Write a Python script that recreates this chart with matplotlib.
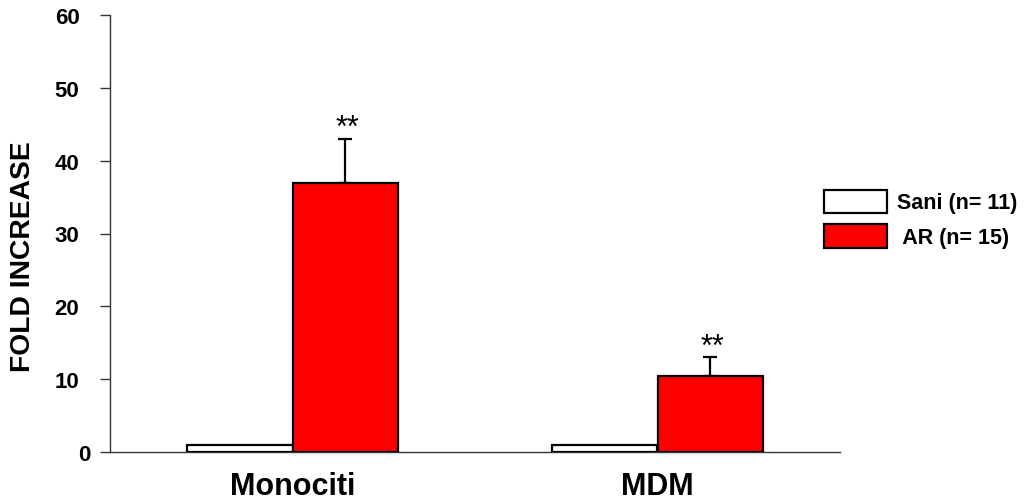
import matplotlib
matplotlib.use("Agg")
import matplotlib.pyplot as plt
import matplotlib.transforms as mtransforms
import numpy as np

categories = ["Monociti", "MDM"]
series_names = ["Sani (n= 11)", " AR (n= 15)"]
sani_values = [1.0, 1.0]
ar_values = [37.0, 10.5]
ar_errors = [6.0, 2.5]
significance = ["**", "**"]
yticks = [0, 10, 20, 30, 40, 50, 60]

plt.rcParams["font.family"] = ["Liberation Sans", "DejaVu Sans"]

fig = plt.figure(figsize=(10.24, 5.02), dpi=100)
ax = fig.add_axes([110/1024, 1-453/502, 730/1024, (453-16)/502])

x = np.arange(len(categories))
w = 0.2877
b1 = ax.bar(x - w/2, sani_values, w, color="white", edgecolor="black", linewidth=1.6,
            label=series_names[0], zorder=3)
b2 = ax.bar(x + w/2, ar_values, w, color="#ff0000", edgecolor="black", linewidth=1.6,
            label=series_names[1], zorder=3)
ax.errorbar(x + w/2, ar_values, yerr=[np.zeros(len(ar_errors)), ar_errors], fmt="none",
            ecolor="black", elinewidth=1.6, capsize=5, capthick=1.6, zorder=2)
for xi, v, e, s in zip(x + w/2, ar_values, ar_errors, significance):
    ax.annotate(s, (xi, v + e), xytext=(1.5, 2), textcoords="offset points",
                ha="center", va="baseline", fontsize=22)

ax.set_xlim(-0.5, 1.5)
ax.set_ylim(0, 60)
ax.set_yticks(yticks)
ax.set_yticklabels([str(t) for t in yticks], fontsize=16, fontweight="bold")
ax.set_xticks(x)
ax.set_xticklabels(categories, fontsize=22, fontweight="bold")
ax.tick_params(axis="x", length=0, pad=14)
ax.tick_params(axis="y", direction="out", length=7, width=1, color="#333333", pad=15)
# the "0" label in the reference sits further right than the others
zero_lbl = ax.get_yticklabels()[0]
zero_lbl.set_transform(zero_lbl.get_transform() +
                       mtransforms.ScaledTranslation(11/100, 0, fig.dpi_scale_trans))
for sp in ["top", "right"]:
    ax.spines[sp].set_visible(False)
ax.spines["left"].set_color("#333333")
ax.spines["bottom"].set_color("#333333")
ax.spines["left"].set_linewidth(1)
ax.spines["bottom"].set_linewidth(1)

fig.text(23/1024, 1-257/502, "FOLD INCREASE", rotation=90, ha="center", va="center",
         fontsize=20.3, fontweight="bold")

leg = fig.legend(handles=[b1, b2], labels=series_names, loc="upper left",
                 bbox_to_anchor=(824/1024, 1-190.5/502), frameon=False,
                 borderpad=0, borderaxespad=0, handlelength=2.93, handleheight=1.3,
                 labelspacing=0.5, handletextpad=0.47,
                 prop={"size": 15.5, "weight": "bold"})

fig.savefig("out.png", dpi=100)
